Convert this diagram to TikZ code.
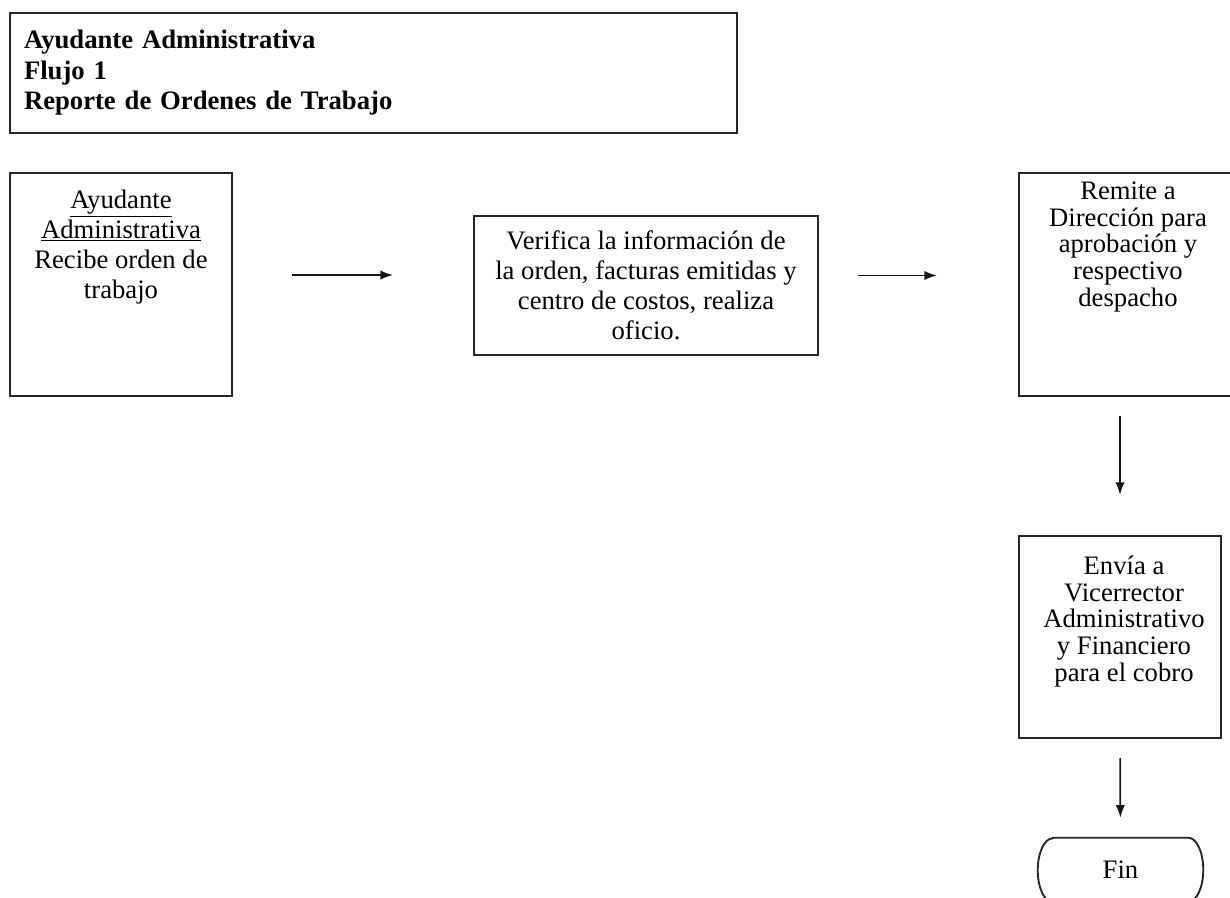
\documentclass[tikz,border=0pt]{standalone}
\usepackage{fontspec}
\setmainfont{Liberation Serif}
\usetikzlibrary{arrows.meta,calc}
\newlength\px
\setlength\px{0.75pt}
\begin{document}
\begin{tikzpicture}[x=0.75pt,y=-0.75pt,
  box/.style={draw=black!85, line width=1.4pt, inner sep=0pt, outer sep=0pt},
  arr/.style={draw=black!90, line width=1.3pt, -{Latex[length=9.5pt,width=7pt]}},
  txt/.style={font=\fontsize{20}{22.5}\selectfont},
  txtr/.style={font=\fontsize{20}{20}\selectfont}]
\useasboundingbox (0,0) rectangle (1230,897);
\fill[white] (0,0) rectangle (1230,897);

% title
\node[box, anchor=north west, minimum width=545.25pt, minimum height=90pt,
      text width=524.25pt, inner xsep=10.5pt, align=left,
      font=\bfseries\fontsize{20}{22.9}\selectfont] (title) at (10,13)
  {Ayudante Administrativa\\Flujo 1\\Reporte de Ordenes de Trabajo};

% box 1
\node[box, txt, anchor=north west] (b1) at (10,173)
  {\parbox[t][223\px][t]{222\px}{\centering\vspace*{17\px}%
   \underline{Ayudante}\\\underline{Administrativa}\\Recibe orden de\\trabajo\par}};

% box 2
\node[box, txt, anchor=north west] (b2) at (474,216)
  {\parbox[c][139\px][c]{344\px}{\centering
   Verifica la información de\\la orden, facturas emitidas y\\centro de costos, realiza\\oficio.\par}};

% box 3 (runs past the right edge)
\node[box, txtr, anchor=north west] (b3) at (1019,173)
  {\parbox[t][223\px][t]{218\px}{\centering\vspace*{9\px}%
   Remite a\\Dirección para\\aprobación y\\respectivo\\despacho\par}};

% box 4
\node[box, txtr, anchor=north west] (b4) at (1019,536)
  {\parbox[t][202\px][t]{202\px}{\centering\vspace*{20\px}%
   \hspace*{8\px}Envía a\\\hspace*{8\px}Vicerrector\\\hspace*{8\px}Administrativo\\\hspace*{8\px}y Financiero\\\hspace*{8\px}para el cobro\par}};

% terminator
\node[txt, minimum width=123.75pt, minimum height=48pt, inner sep=0pt] (fin) at (1120.5,870) {Fin};
\draw[box] ([xshift=11.25pt]fin.north west) -- ([xshift=-11.25pt]fin.north east)
  arc[start angle=90, end angle=-90, x radius=11.25pt, y radius=24pt]
  -- ([xshift=11.25pt]fin.south west)
  arc[start angle=270, end angle=90, x radius=11.25pt, y radius=24pt] -- cycle;

% connectors
\draw[arr, shorten <=45pt, shorten >=60.75pt] ([yshift=7.1pt]b1.east) -- ([yshift=7.1pt]b1.east -| b2.west);
\draw[arr, shorten <=30pt, shorten >=61.5pt] ([yshift=7.5pt]b2.east) -- ([yshift=7.5pt]b2.east -| b3.west);
\draw[arr, shorten <=15pt, shorten >=30.75pt] (b3.south -| b4.north) -- (b4.north);
\draw[arr, shorten <=15pt, shorten >=15pt] (b4.south) -- (fin.north);
\end{tikzpicture}
\end{document}
